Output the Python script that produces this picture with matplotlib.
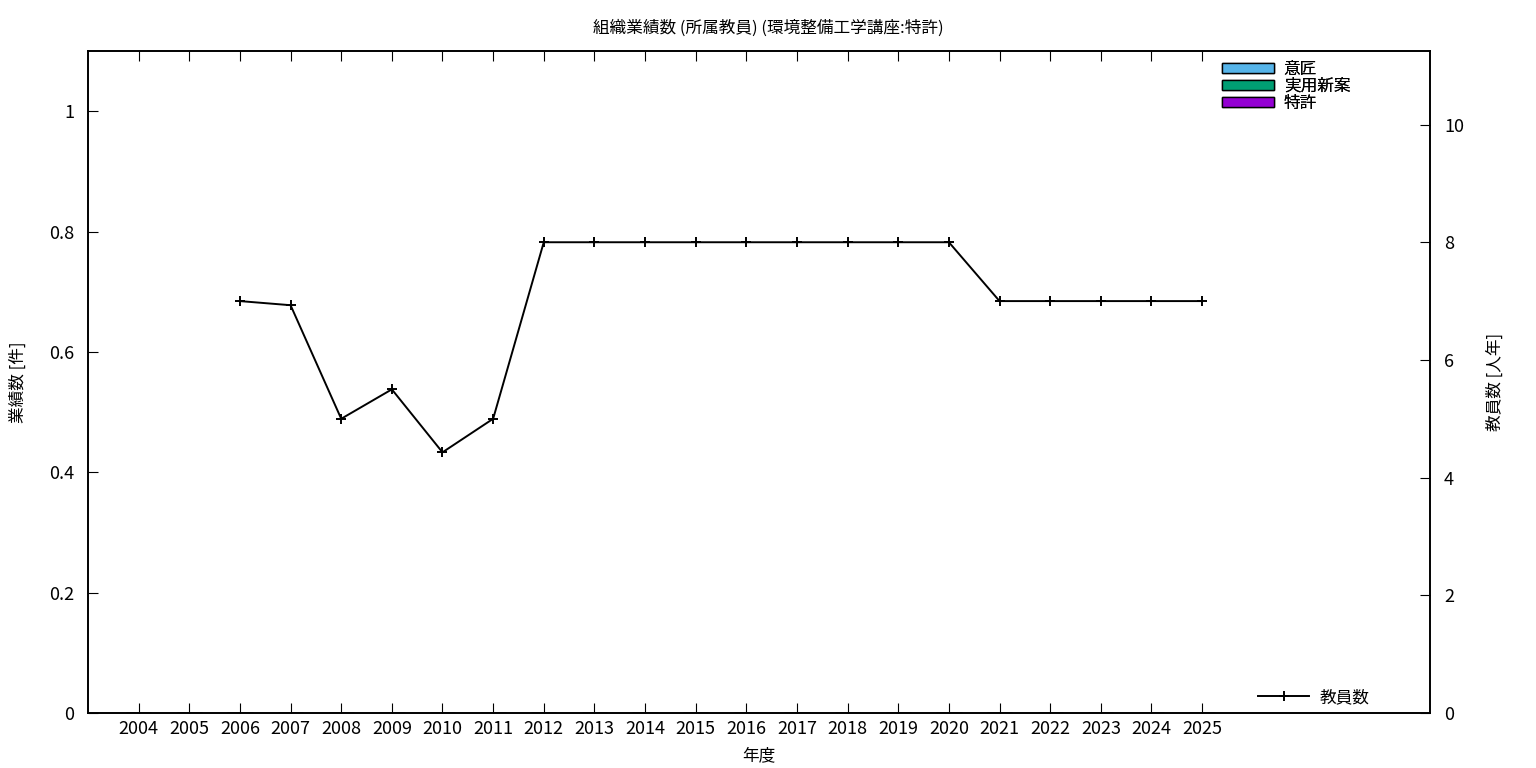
import numpy as np
import matplotlib.pyplot as plt
from matplotlib.patches import Patch
from matplotlib.lines import Line2D

plt.rcParams['font.family'] = ['Noto Sans CJK JP', 'DejaVu Sans']

# data
years = list(range(2004, 2026))
design = [0] * len(years)      # 意匠
utility = [0] * len(years)     # 実用新案
patent = [0] * len(years)      # 特許
staff_years = list(range(2006, 2026))
staff = [7.0, 6.93, 5.0, 5.5, 4.43, 5.0,
         8, 8, 8, 8, 8, 8, 8, 8, 8,
         7, 7, 7, 7, 7]

fig = plt.figure(figsize=(15.36, 7.68), dpi=100)
ax = fig.add_axes([88/1536, 55/768, (1430-88)/1536, (713-51)/768])
ax2 = ax.twinx()

# stacked bars (all zero here)
ax.bar(years, patent, width=0.5, color='#9400d3', edgecolor='black')
ax.bar(years, utility, width=0.5, bottom=patent, color='#009e73', edgecolor='black')
ax.bar(years, design, width=0.5, bottom=np.add(patent, utility), color='#56b4e9', edgecolor='black')

ax2.plot(staff_years, staff, color='black', lw=1.4, marker='+', ms=7, mew=1.4)

ax.set_xlim(2003, 2029.5)
ax.set_ylim(0, 1.1)
ax2.set_ylim(0, 11.25)
ax.set_xticks(years)
ax.set_xticklabels([str(y) for y in years])
ax.set_yticks([0, 0.2, 0.4, 0.6, 0.8, 1])
ax.set_yticklabels(['0', '0.2', '0.4', '0.6', '0.8', '1'])
ax2.set_yticks([0, 2, 4, 6, 8, 10])

ax.tick_params(axis='x', direction='in', top=True, length=7, labelsize=13, pad=5)
ax.tick_params(axis='y', direction='in', length=7, labelsize=13, pad=10)
ax2.tick_params(axis='y', direction='in', length=7, labelsize=13, pad=10)
for a in (ax, ax2):
    for s in a.spines.values():
        s.set_linewidth(1.2)

ax.set_xlabel('年度', fontsize=12, labelpad=7)
ax.set_ylabel('業績数 [件]', fontsize=12, labelpad=16)
ax2.set_ylabel('教員数 [人年]', fontsize=12, labelpad=16)
fig.suptitle('組織業績数 (所属教員) (環境整備工学講座:特許)', fontsize=12, y=0.974)

handles = [Patch(facecolor='#56b4e9', edgecolor='black', label='意匠'),
           Patch(facecolor='#009e73', edgecolor='black', label='実用新案'),
           Patch(facecolor='#9400d3', edgecolor='black', label='特許')]
leg = ax.legend(handles=handles, loc='upper right', bbox_to_anchor=(0.948, 1.0),
                frameon=False, fontsize=12, handlelength=3.1, handleheight=0.6,
                labelspacing=0.0, handletextpad=0.6, borderaxespad=0.2)
ax.add_artist(leg)
ax2.legend(handles=[Line2D([0], [0], color='black', lw=1.4, marker='+', ms=7, mew=1.4, label='教員数')],
           loc='lower right', bbox_to_anchor=(0.966, -0.012), frameon=False, fontsize=12,
           handlelength=3.1, handletextpad=0.6)

fig.savefig('out.png', dpi=100)
